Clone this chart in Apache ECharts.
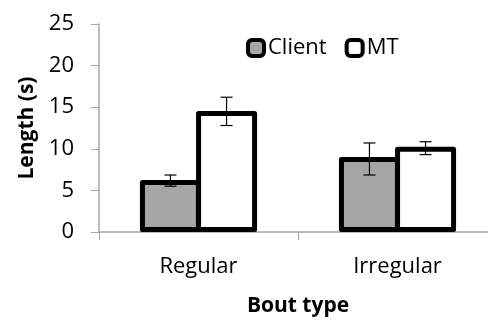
<!DOCTYPE html>
<html><head><meta charset="utf-8">
<script src="https://cdn.jsdelivr.net/npm/echarts@6/dist/echarts.min.js"></script>
<style>html,body{margin:0;padding:0;background:#fff}#c{width:488px;height:320px}</style>
</head><body><div id="c"></div>
<script>
const categories = ['Regular', 'Irregular'];
const seriesNames = ['Client', 'MT'];
const clientMean = [6.25, 9.0];
const clientLow = [5.5, 6.85];
const clientHigh = [6.85, 10.7];
const mtMean = [14.55, 10.25];
const mtLow = [12.8, 9.3];
const mtHigh = [16.2, 10.85];
const yTicks = [0, 5, 10, 15, 20, 25];

const FONT = 'Open Sans';
const BAR_W = 61;
const chart = echarts.init(document.getElementById('c'), null, {renderer: 'canvas'});

function errSeries(low, high, offset) {
  return {
    type: 'custom',
    z: 10,
    silent: true,
    data: categories.map((c, i) => [i, low[i], high[i]]),
    encode: {x: 0, y: [1, 2]},
    renderItem: function (params, api) {
      const i = api.value(0);
      const lo = api.coord([i, api.value(1)]);
      const hi = api.coord([i, api.value(2)]);
      const x = lo[0] + offset;
      const cap = 6;
      const st = {stroke: '#000', lineWidth: 1.2};
      return {type: 'group', children: [
        {type: 'line', shape: {x1: x, y1: lo[1], x2: x, y2: hi[1]}, style: st},
        {type: 'line', shape: {x1: x - cap, y1: lo[1], x2: x + cap, y2: lo[1]}, style: st},
        {type: 'line', shape: {x1: x - cap, y1: hi[1], x2: x + cap, y2: hi[1]}, style: st}
      ]};
    }
  };
}

chart.setOption({
  animation: false,
  textStyle: {fontFamily: FONT},
  grid: {left: 99, top: 24, width: 398, height: 208, containLabel: false, outerBoundsMode: 'none'},
  legend: {
    data: seriesNames,
    left: 241, top: 32,
    itemWidth: 16, itemHeight: 16, itemGap: 18,
    icon: 'roundRect',
    itemStyle: {borderColor: '#000', borderWidth: 4},
    textStyle: {fontFamily: FONT, fontSize: 22, color: '#000', padding: [0, 0, 0, -1]}
  },
  xAxis: {
    type: 'category',
    data: categories,
    name: 'Bout type',
    nameLocation: 'middle',
    nameGap: 64,
    nameTextStyle: {fontFamily: FONT, fontSize: 21, fontWeight: 'bold', color: '#000'},
    axisLine: {lineStyle: {color: '#a6a6a6', width: 1.5}},
    axisTick: {show: true, length: 8, lineStyle: {color: '#a6a6a6'}},
    axisLabel: {fontFamily: FONT, fontSize: 22, color: '#000', margin: 24}
  },
  yAxis: {
    type: 'value',
    min: 0, max: 25, interval: 5,
    name: 'Length (s)',
    nameLocation: 'middle',
    nameGap: 60,
    nameTextStyle: {fontFamily: FONT, fontSize: 21, fontWeight: 'bold', color: '#000'},
    axisLine: {show: true, lineStyle: {color: '#a6a6a6', width: 1.5}},
    axisTick: {show: true, length: 8, lineStyle: {color: '#a6a6a6'}},
    splitLine: {show: false},
    axisLabel: {fontFamily: FONT, fontSize: 22, color: '#000', margin: 25,
      formatter: v => yTicks.includes(v) ? String(v) : ''}
  },
  series: [
    {name: 'Client', type: 'bar', data: clientMean, barWidth: BAR_W, barGap: '-8%',
      itemStyle: {color: '#a6a6a6', borderColor: '#000', borderWidth: 5, borderJoin: 'round'}},
    {name: 'MT', type: 'bar', data: mtMean, barWidth: BAR_W, barGap: '-8%',
      itemStyle: {color: '#ffffff', borderColor: '#000', borderWidth: 5, borderJoin: 'round'}},
    errSeries(clientLow, clientHigh, -(BAR_W * 0.92) / 2),
    errSeries(mtLow, mtHigh, (BAR_W * 0.92) / 2)
  ]
});
</script></body></html>
